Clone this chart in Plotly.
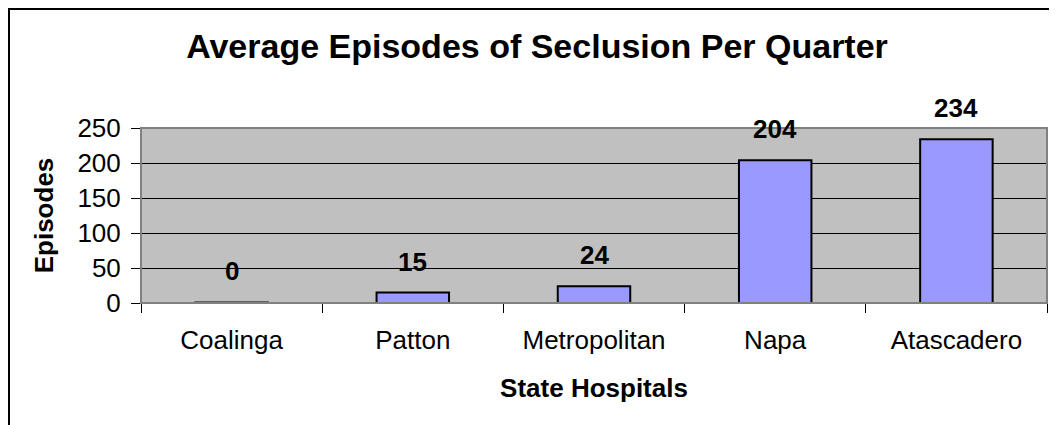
import plotly.graph_objects as go

# data (Coalinga shows a hairline bar, labelled 0)
hospitals = ['Coalinga', 'Patton', 'Metropolitan', 'Napa', 'Atascadero']
episodes = [0.8, 15, 24, 204, 234]
y_ticks = [0, 50, 100, 150, 200, 250]

FONT = 'Liberation Sans, Arial, sans-serif'

# the page body adds an 8px margin, so the figure is drawn 8px smaller
# and everything is laid out 8px up/left of the reference positions
OFF = 8
W, H = 1057 - OFF, 425 - OFF
L, R = 141 - OFF, W - (1047 - OFF)
T, B = 128 - OFF, H - (303 - OFF)

fig = go.Figure()
fig.add_trace(go.Bar(
    x=hospitals, y=episodes,
    marker=dict(color='#9999FF', line=dict(color='black', width=2)),
    hoverinfo='x+y',
))

# value labels above each bar (whole numbers, like the source)
for h, v in zip(hospitals, episodes):
    fig.add_annotation(x=h, y=v, text='<b>%d</b>' % int(v), showarrow=False,
                       yanchor='bottom', yshift=14,
                       font=dict(family=FONT, size=26, color='black'))

# outer chart border (only top/left visible in the crop)
pw = W - L - R
ph = H - T - B
fig.add_shape(type='rect', xref='paper', yref='paper',
              x0=(1 - L) / pw, x1=(W + 20 - L) / pw,
              y0=-(B + 20) / ph, y1=(H - B - 1) / ph,
              line=dict(color='black', width=2), layer='below')
# plot area border
fig.add_shape(type='rect', xref='paper', yref='paper', x0=0, x1=1, y0=0, y1=1,
              line=dict(color='#808080', width=2), layer='above')

fig.update_layout(
    width=W, height=H,
    margin=dict(l=L, r=R, t=T, b=B, pad=0),
    paper_bgcolor='white', plot_bgcolor='#C0C0C0',
    bargap=0.6, showlegend=False,
    font=dict(family=FONT, size=26, color='black'),
    title=dict(text='<b>Average Episodes of Seclusion Per Quarter</b>',
               x=(537 - OFF) / W, xanchor='center', y=1 - 38 / H,
               yanchor='middle', yref='container', automargin=False,
               font=dict(family=FONT, size=34, color='black')),
)
fig.update_xaxes(
    automargin=False,
    tickson='boundaries', ticks='outside', ticklen=9, tickcolor='black',
    tickwidth=1, showline=False, showgrid=False,
    tickfont=dict(family=FONT, size=26), ticklabelstandoff=19,
    title=dict(text='<b>State Hospitals</b>', standoff=24,
               font=dict(family=FONT, size=26)),
)
fig.update_yaxes(
    automargin=False,
    range=[0, 250], tickvals=y_ticks, ticks='outside', ticklen=9,
    tickcolor='black', tickwidth=1, showline=False,
    showgrid=True, gridcolor='black', gridwidth=1, zeroline=False,
    tickfont=dict(family=FONT, size=26), ticklabelstandoff=5,
    title=dict(text='<b>Episodes</b>', standoff=16,
               font=dict(family=FONT, size=26)),
)

fig.write_html('out.html')
